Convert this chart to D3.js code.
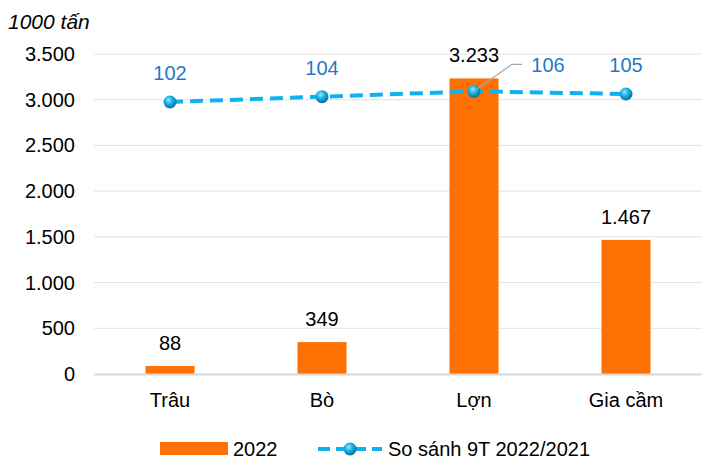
<!DOCTYPE html>
<html>
<head>
<meta charset="utf-8">
<script src="https://cdn.jsdelivr.net/npm/d3@7"></script>
<style>
  body { margin: 0; background: #fff; }
  text { font-family: "Liberation Sans", Arial, sans-serif; }
</style>
</head>
<body>
<div id="chart"></div>
<script>
// --- data ---
const categories = ["Trâu", "Bò", "Lợn", "Gia cầm"];
const output2022 = [88, 349, 3233, 1467];
const compare = [102, 104, 106, 105];
const yTicks = [0, 500, 1000, 1500, 2000, 2500, 3000, 3500];

const W = 706, H = 462;
const margin = { left: 94, right: 4, top: 54, bottom: 88 };
const FS = 20;

const svg = d3.select("#chart").append("svg")
  .attr("width", W).attr("height", H);

const x = d3.scaleBand()
  .domain(categories)
  .range([margin.left, W - margin.right])
  .paddingInner(0).paddingOuter(0);

const y = d3.scaleLinear().domain([0, 3500]).range([H - margin.bottom, margin.top]);
// secondary axis (hidden) for the percentage line
const y2 = d3.scaleLinear().domain([0, 120]).range([H - margin.bottom, margin.top]);

const fmt = v => d3.format(",")(v).replace(/,/g, ".");

// gridlines
svg.append("g")
  .selectAll("line")
  .data(yTicks.slice(1))
  .enter().append("line")
  .attr("x1", margin.left).attr("x2", W - margin.right)
  .attr("y1", d => y(d)).attr("y2", d => y(d))
  .attr("stroke", "#e3e3e3").attr("stroke-width", 1);

// y tick labels
svg.append("g")
  .selectAll("text")
  .data(yTicks)
  .enter().append("text")
  .attr("x", 75).attr("y", d => y(d))
  .attr("dy", "0.35em")
  .attr("text-anchor", "end")
  .attr("font-size", FS).attr("fill", "#000")
  .text(fmt);

svg.append("text")
  .attr("x", 8).attr("y", 29)
  .attr("font-size", 21).attr("font-style", "italic")
  .text("1000 tấn");

// bars
const barW = 49;
svg.append("g")
  .selectAll("rect")
  .data(output2022)
  .enter().append("rect")
  .attr("x", (d, i) => x(categories[i]) + x.bandwidth() / 2 - barW / 2)
  .attr("y", d => y(d))
  .attr("width", barW)
  .attr("height", d => y(0) - y(d))
  .attr("fill", "#FF7102");

// axis line
svg.append("line")
  .attr("x1", margin.left).attr("x2", W - margin.right)
  .attr("y1", y(0) + 0.5).attr("y2", y(0) + 0.5)
  .attr("stroke", "#d9d9d9").attr("stroke-width", 2);

// bar labels
svg.append("g")
  .selectAll("text")
  .data(output2022)
  .enter().append("text")
  .attr("x", (d, i) => x(categories[i]) + x.bandwidth() / 2)
  .attr("y", d => y(d) - 16)
  .attr("text-anchor", "middle")
  .attr("font-size", FS).attr("fill", "#000")
  .text(fmt);

// x labels
svg.append("g")
  .selectAll("text")
  .data(categories)
  .enter().append("text")
  .attr("x", d => x(d) + x.bandwidth() / 2)
  .attr("y", 407)
  .attr("text-anchor", "middle")
  .attr("font-size", FS).attr("fill", "#000")
  .text(d => d);

// sphere gradient for markers
const defs = svg.append("defs");
const grad = defs.append("radialGradient")
  .attr("id", "ball").attr("cx", "40%").attr("cy", "35%").attr("r", "65%");
grad.append("stop").attr("offset", "0").attr("stop-color", "#9fe6ff");
grad.append("stop").attr("offset", "0.45").attr("stop-color", "#17b4ea");
grad.append("stop").attr("offset", "1").attr("stop-color", "#0a6f9c");

// line
const cx = i => x(categories[i]) + x.bandwidth() / 2;
const line = d3.line().x((d, i) => cx(i)).y(d => y2(d));
svg.append("path")
  .datum(compare)
  .attr("d", line)
  .attr("fill", "none")
  .attr("stroke", "#0FB2EC")
  .attr("stroke-width", 4)
  .attr("stroke-dasharray", "13 7");

svg.append("g")
  .selectAll("circle")
  .data(compare)
  .enter().append("circle")
  .attr("cx", (d, i) => cx(i))
  .attr("cy", d => y2(d))
  .attr("r", 6.5)
  .attr("fill", "url(#ball)");

// line labels (the 106 label is moved aside with a leader line)
const labelOffset = [[0, -29], [0, -29], [74, -26], [0, -29]];
compare.forEach((d, i) => {
  const lx = cx(i) + labelOffset[i][0];
  const ly = y2(d) + labelOffset[i][1];
  if (labelOffset[i][0] !== 0) {
    svg.append("polyline")
      .attr("points", [[cx(i), y2(d)], [cx(i) + 38, ly - 1], [cx(i) + 48, ly - 1]].map(p => p.join(",")).join(" "))
      .attr("fill", "none").attr("stroke", "#a6a6a6").attr("stroke-width", 1.2);
  }
  svg.append("text")
    .attr("x", lx).attr("y", ly)
    .attr("dy", "0.35em")
    .attr("text-anchor", "middle")
    .attr("font-size", FS).attr("fill", "#1F7AC6")
    .text(d);
});

// legend
const lg = svg.append("g");
lg.append("rect").attr("x", 160).attr("y", 442).attr("width", 68).attr("height", 13).attr("fill", "#FF7102");
lg.append("text").attr("x", 233).attr("y", 449).attr("dy", "0.35em").attr("font-size", FS).text("2022");
lg.append("line").attr("x1", 318).attr("x2", 382).attr("y1", 449).attr("y2", 449)
  .attr("stroke", "#0FB2EC").attr("stroke-width", 4).attr("stroke-dasharray", "12 6");
lg.append("circle").attr("cx", 350).attr("cy", 449).attr("r", 6.5).attr("fill", "url(#ball)");
lg.append("text").attr("x", 388).attr("y", 449).attr("dy", "0.35em").attr("font-size", FS).text("So sánh 9T 2022/2021");
</script>
</body>
</html>
